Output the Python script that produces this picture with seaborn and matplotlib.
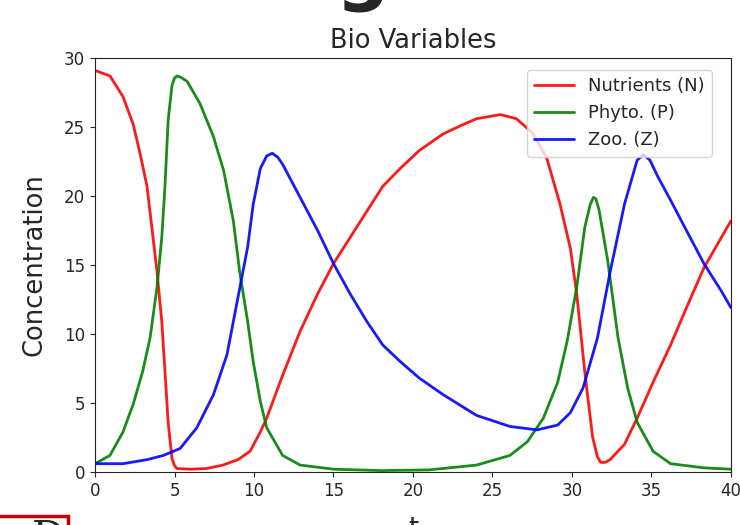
import matplotlib
matplotlib.use('Agg')
import matplotlib.pyplot as plt
from matplotlib.patches import Rectangle
import seaborn as sns

# values (t, concentration)
t_N = [0, 0.94, 1.76, 2.4, 2.83, 3.27, 3.65, 3.9, 4.2, 4.4, 4.6, 4.84, 5.0, 5.15, 6.0, 7.0,
       8.05, 9.0, 9.75, 10.4, 10.8, 11.8, 12.9, 14.0, 15.0, 16.05, 17.1, 18.1, 19.2,
       20.4, 21.9, 23.0, 24.0, 25.5, 26.5, 27.5, 28.4, 29.25, 29.9, 30.3, 30.8, 31.3,
       31.6, 31.8, 32.1, 32.4, 33.3, 34.1, 35.1, 36.2, 37.2, 38.3, 39.4, 40]
N = [29.1, 28.7, 27.2, 25.2, 23.1, 20.7, 17.0, 14.5, 10.9, 7.3, 3.6, 1.0, 0.45, 0.25, 0.2, 0.25,
     0.5, 0.9, 1.5, 2.9, 3.9, 7.0, 10.2, 12.9, 15.1, 17.0, 18.9, 20.7, 22.0,
     23.3, 24.5, 25.1, 25.6, 25.9, 25.6, 24.6, 22.8, 19.4, 16.2, 12.9, 7.3, 2.5,
     1.1, 0.7, 0.7, 0.9, 2.0, 3.9, 6.5, 9.2, 11.9, 14.8, 17.0, 18.2]

t_P = [0, 0.94, 1.76, 2.4, 3.0, 3.46, 3.9, 4.2, 4.4, 4.6, 4.84, 5.0, 5.15, 5.4, 5.8, 6.6, 7.45,
       8.1, 8.7, 9.1, 9.6, 9.95, 10.4, 10.8, 11.8, 12.9, 15.0, 18.0, 21.0, 24.0, 26.1,
       27.2, 28.2, 29.1, 29.7, 30.3, 30.8, 31.15, 31.35, 31.5, 31.7, 32.25, 32.9, 33.5, 34.1, 35.1,
       36.2, 38.3, 40]
P = [0.6, 1.2, 2.9, 4.9, 7.3, 9.7, 13.4, 17.0, 20.7, 25.5, 28.0, 28.55, 28.7, 28.6, 28.3, 26.7, 24.3,
     21.8, 18.2, 14.5, 10.9, 8.0, 5.1, 3.2, 1.2, 0.5, 0.2, 0.1, 0.15, 0.5, 1.2,
     2.2, 3.9, 6.5, 9.5, 13.4, 17.7, 19.4, 19.9, 19.8, 19.0, 15.3, 9.7, 6.1, 3.6, 1.5,
     0.6, 0.3, 0.2]

t_Z = [0, 1.76, 3.3, 4.3, 5.35, 6.4, 7.45, 8.3, 8.9, 9.6, 9.95, 10.4, 10.8, 11.15, 11.5, 11.8, 12.9,
       14.0, 15.0, 16.05, 17.1, 18.1, 19.2, 20.4, 21.9, 24.0, 26.1, 27.8, 29.1, 29.9,
       30.7, 31.6, 32.4, 33.3, 34.1, 34.5, 34.9, 35.4, 36.2, 37.2, 38.3, 39.4, 40]
Z = [0.6, 0.6, 0.9, 1.2, 1.7, 3.2, 5.6, 8.5, 12.1, 16.3, 19.4, 22.0, 22.9, 23.1, 22.8, 22.3, 19.9,
     17.5, 15.1, 12.9, 10.9, 9.2, 8.0, 6.8, 5.6, 4.1, 3.3, 3.05, 3.4, 4.3,
     6.1, 9.7, 14.5, 19.4, 22.6, 23.0, 22.6, 21.4, 19.7, 17.5, 15.1, 13.1, 11.9]

sns.set_style('ticks')
plt.rcParams['font.family'] = ['DejaVu Sans']

fig = plt.figure(figsize=(7.4, 5.25), dpi=100)
ax = fig.add_axes([0.1284, 0.101, 0.8594, 0.7885])

sns.lineplot(x=t_N, y=N, ax=ax, color='red', lw=2, alpha=0.9, label='Nutrients (N)')
sns.lineplot(x=t_P, y=P, ax=ax, color='green', lw=2, alpha=0.9, label='Phyto. (P)')
sns.lineplot(x=t_Z, y=Z, ax=ax, color='blue', lw=2, alpha=0.9, label='Zoo. (Z)')

ax.set_xlim(0, 40)
ax.set_ylim(0, 30)
ax.set_xticks(range(0, 41, 5))
ax.set_yticks(range(0, 31, 5))
ax.tick_params(labelsize=12)
for s in ax.spines.values():
    s.set_color('#222222')
ax.set_title('Bio Variables', fontsize=18.5, pad=7)
ax.set_ylabel('Concentration', fontsize=18.5, labelpad=12)
ax.set_xlabel('t', fontsize=18.5, labelpad=12)
ax.legend(loc='upper right', bbox_to_anchor=(0.970, 0.971), borderaxespad=0,
          fontsize=13, frameon=True, framealpha=0.8, edgecolor='#cccccc',
          handlelength=2.2)

# bits of the surrounding page that show in the crop
fig.text(0.49, 1.008, 'g', fontsize=54, fontweight='bold', ha='center', va='baseline')
fig.patches.append(Rectangle((-0.01, -0.05), 0.102, 0.067, transform=fig.transFigure,
                             facecolor='white', edgecolor='#c00000', lw=2.5))
fig.text(0.066, 0.014, 'D', fontsize=30, family='DejaVu Serif', ha='center', va='top')

fig.savefig('out.png', dpi=100)
